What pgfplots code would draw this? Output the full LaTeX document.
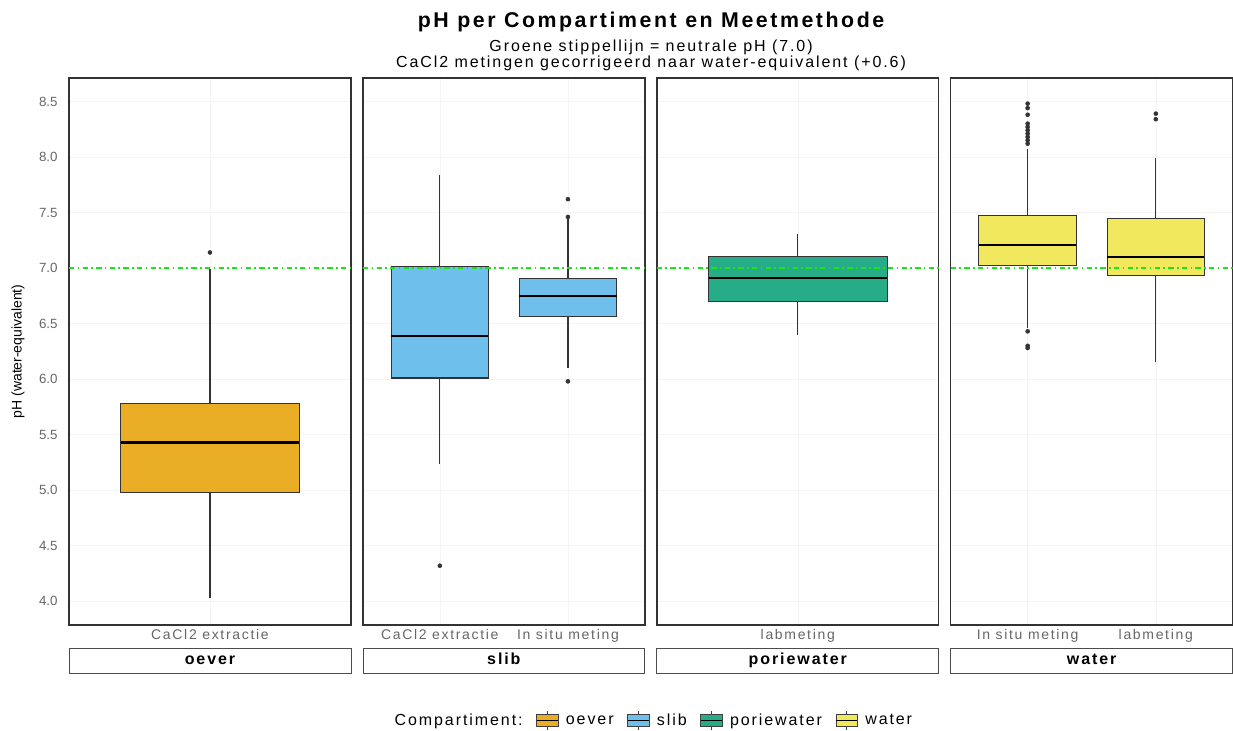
\documentclass[border=0pt]{standalone}
\usepackage{pgfplots}
\pgfplotsset{compat=1.18}
\usepgfplotslibrary{statistics}
\usepackage{fontspec}
\setmainfont{Liberation Sans}
\newfontfamily\wf{Liberation Sans}[LetterSpace=12]

\definecolor{oever}{HTML}{E69F00}
\definecolor{slib}{HTML}{56B4E9}
\definecolor{porie}{HTML}{009E73}
\definecolor{water}{HTML}{F0E442}
\definecolor{neutral}{RGB}{25,230,25}

\newcommand\legbox[1]{\addlegendimage{legend image code/.code={
  \draw[black!75, line width=0.6pt] (8pt,-7pt) -- (8pt,7pt);
  \draw[fill=#1, draw=black!75, line width=0.6pt] (0pt,-4.5pt) rectangle (16pt,4.5pt);
  \draw[black, line width=1pt] (0pt,0pt) -- (16pt,0pt);}}}

\pgfplotsset{
  panel/.style={
    scale only axis, width=211.5pt, height=410.25pt, anchor=north west,
    ymin=3.788, ymax=8.711,
    ytick={4,4.5,...,8.5},
    tick style={draw=none},
    grid=major, major grid style={black!4, line width=0.4pt},
    axis line style={black!80, line width=1pt},
    xticklabel style={font=\wf\fontsize{10.5}{12}\selectfont, text=black!60},
    yticklabel style={font=\fontsize{10}{12}\selectfont, text=black!60, xshift=-5pt,
      /pgf/number format/.cd, fixed, fixed zerofill, precision=1, assume math mode=true},
    xlabel style={at={(axis description cs:0.5,-0.042)}, anchor=north,
      draw=black!70, line width=0.6pt, minimum width=211.5pt, minimum height=18.75pt,
      text height=8.8pt, text depth=2.6pt,
      inner sep=0pt, font=\wf\bfseries\fontsize{12}{14}\selectfont},
    boxplot/draw direction=y,
    boxplot/whisker extend=0,
    boxplot/every median/.style={black, line width=1.6pt},
    boxplot/every whisker/.style={black!80, line width=0.9pt},
    boxplot/every box/.style={draw=black!80, line width=0.8pt},
  },
  bx/.style={boxplot prepared={box extend=0.76, #1}, draw=black!80, mark=*, mark size=1.5pt,
    mark options={draw=black!80, fill=black!80}, forget plot},
  neutralline/.style={neutral, line width=1.4pt, dash pattern=on 4pt off 2.5pt on 1.2pt off 2.5pt, forget plot},
}

\begin{document}
\begin{tikzpicture}
\useasboundingbox (0pt,0pt) rectangle (925pt,-548.25pt);

% oever
\begin{axis}[panel, at={(51.75pt,-58.5pt)}, xmin=0.4, xmax=1.6,
  xtick={1}, xticklabels={CaCl2 extractie}, xlabel={oever},
  ylabel={pH (water-equivalent)},
  ylabel style={at={(axis description cs:-0.181,0.5)}, anchor=center, font=\fontsize{10.5}{12}\selectfont}]
\addplot[bx={draw position=1, lower whisker=4.03, lower quartile=4.98, median=5.43, upper quartile=5.78, upper whisker=6.99}, fill=oever!85!white]
  coordinates {(1,7.14)};
\addplot[neutralline] coordinates {(0.4,7) (1.6,7)};
\end{axis}

% slib
\begin{axis}[panel, at={(272.25pt,-58.5pt)}, xmin=0.4, xmax=2.6,
  xtick={1,2}, xticklabels={CaCl2 extractie, In situ meting}, xlabel={slib},
  yticklabels={},
  title={{\fontsize{16}{19}\selectfont\bfseries pH per Compartiment en Meetmethode}\\[5pt]
    Groene stippellijn = neutrale pH (7.0)\\CaCl2 metingen gecorrigeerd naar water-equivalent (+0.6)},
  title style={at={(axis description cs:1.022,1)}, anchor=south, yshift=-1pt, inner sep=0pt,
    align=center, font=\wf\fontsize{12}{12}\selectfont},
  legend style={at={(axis description cs:1.022,-0.1755)}, anchor=center, draw=none,
    legend columns=-1, font=\wf\fontsize{12}{13}\selectfont,
    /tikz/every odd column/.append style={column sep=3.5pt},
    /tikz/every even column/.append style={column sep=8pt}}]
\addplot[bx={draw position=1, lower whisker=5.24, lower quartile=6.01, median=6.39, upper quartile=7.01, upper whisker=7.84}, fill=slib!85!white]
  coordinates {(1,4.32)};
\addplot[bx={draw position=2, lower whisker=6.10, lower quartile=6.56, median=6.75, upper quartile=6.91, upper whisker=7.44}, fill=slib!85!white]
  coordinates {(2,7.62) (2,7.46) (2,5.98)};
\addplot[neutralline] coordinates {(0.4,7) (2.6,7)};
\addlegendimage{empty legend}\addlegendentry{Compartiment:}
\legbox{oever!85!white}\addlegendentry{oever}
\legbox{slib!85!white}\addlegendentry{slib}
\legbox{porie!85!white}\addlegendentry{poriewater}
\legbox{water!85!white}\addlegendentry{water}
\end{axis}

% poriewater
\begin{axis}[panel, at={(492.75pt,-58.5pt)}, xmin=0.4, xmax=1.6,
  xtick={1}, xticklabels={labmeting}, xlabel={poriewater}, yticklabels={}]
\addplot[bx={draw position=1, lower whisker=6.40, lower quartile=6.70, median=6.91, upper quartile=7.10, upper whisker=7.31}, fill=porie!85!white]
  coordinates {};
\addplot[neutralline] coordinates {(0.4,7) (1.6,7)};
\end{axis}

% water
\begin{axis}[panel, at={(713.25pt,-58.5pt)}, xmin=0.4, xmax=2.6,
  xtick={1,2}, xticklabels={In situ meting, labmeting}, xlabel={water}, yticklabels={}]
\addplot[bx={draw position=1, lower whisker=6.46, lower quartile=7.02, median=7.21, upper quartile=7.47, upper whisker=8.07}, fill=water!85!white]
  coordinates {(1,8.12) (1,8.15) (1,8.18) (1,8.21) (1,8.24) (1,8.27) (1,8.30) (1,8.38) (1,8.44) (1,8.48) (1,6.43) (1,6.30) (1,6.28)};
\addplot[bx={draw position=2, lower whisker=6.15, lower quartile=6.93, median=7.10, upper quartile=7.45, upper whisker=7.99}, fill=water!85!white]
  coordinates {(2,8.34) (2,8.39)};
\addplot[neutralline] coordinates {(0.4,7) (2.6,7)};
\end{axis}
\end{tikzpicture}
\end{document}
